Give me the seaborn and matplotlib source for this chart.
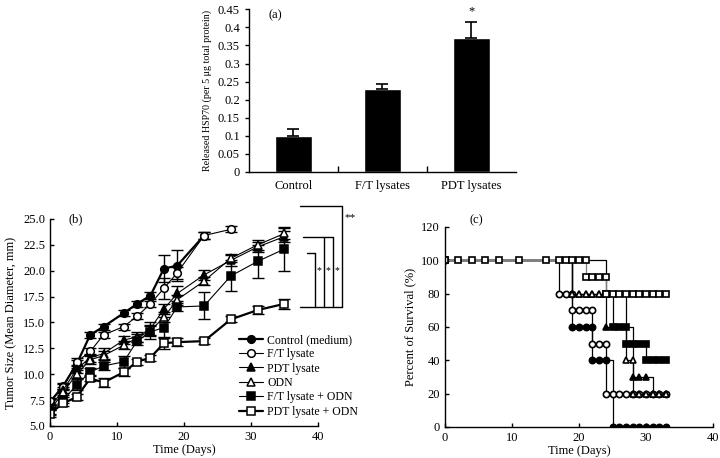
import matplotlib
matplotlib.use('Agg')
import matplotlib.pyplot as plt
import seaborn as sns
import pandas as pd

# ---------------- Panel (a) data ----------------
a_categories = ['Control', 'F/T lysates', 'PDT lysates']
a_values = [0.10, 0.23, 0.37]
a_errors = [0.02, 0.012, 0.045]
a_yticks = [0, 0.05, 0.1, 0.15, 0.2, 0.25, 0.3, 0.35, 0.4, 0.45]
a_yticklabels = ['0', '0.05', '0.1', '0.15', '0.2', '0.25', '0.3', '0.35', '0.4', '0.45']

# ---------------- Panel (b) data ----------------
b_days = [0, 2, 4, 6, 8, 11, 13, 15, 17, 19, 23, 27, 31, 35]
b_labels = ['Control (medium)', 'F/T lysate', 'PDT lysate', 'ODN',
            'F/T lysate + ODN', 'PDT lysate + ODN']
b_control = [7.3, 8.9, 11.0, 13.8, 14.6, 15.9, 16.8, 17.6, 20.2, 20.5, 23.4]
b_control_err = [0.3, 0.3, 0.4, 0.3, 0.3, 0.3, 0.3, 0.3, 1.3, 1.5, 0.3]
b_ft = [7.4, 8.8, 11.2, 12.2, 13.8, 14.6, 15.6, 16.8, 18.3, 19.8, 23.4, 24.0]
b_ft_err = [0.3, 0.3, 0.4, 0.3, 0.3, 0.3, 0.3, 0.3, 1.0, 0.6, 0.3, 0.3]
b_pdt = [6.8, 8.5, 10.5, 11.6, 12.0, 13.3, 13.6, 14.4, 16.3, 17.8, 19.6, 21.0, 22.3, 23.3]
b_pdt_err = [0.3, 0.3, 0.4, 0.4, 0.5, 0.4, 0.5, 0.6, 0.5, 0.7, 0.5, 0.5, 0.5, 0.5]
b_odn = [6.5, 8.3, 10.0, 11.4, 11.8, 12.8, 13.5, 14.2, 15.5, 17.2, 19.0, 21.2, 22.5, 23.6]
b_odn_err = [0.3, 0.3, 0.4, 0.4, 0.4, 0.4, 0.4, 0.5, 0.5, 0.5, 0.4, 0.4, 0.5, 0.5]
b_ftodn = [6.4, 7.5, 9.0, 10.2, 10.8, 11.2, 13.2, 14.1, 14.5, 16.5, 16.6, 19.5, 20.9, 22.1]
b_ftodn_err = [0.3, 0.3, 0.5, 0.4, 0.4, 0.6, 0.4, 0.7, 1.0, 0.4, 1.3, 1.5, 1.6, 2.1]
b_pdtodn = [6.2, 7.2, 7.8, 9.6, 9.2, 10.2, 11.2, 11.6, 13.0, 13.1, 13.2, 15.3, 16.2, 16.8]
b_pdtodn_err = [0.3, 0.3, 0.3, 0.3, 0.4, 0.4, 0.3, 0.3, 0.6, 0.4, 0.3, 0.3, 0.4, 0.5]
b_yticks = [5.0, 7.5, 10.0, 12.5, 15.0, 17.5, 20.0, 22.5, 25.0]
b_yticklabels = ['5.0', '7.5', '10.0', '12.5', '15.0', '17.5', '20.0', '22.5', '25.0']

# ---------------- Panel (c) data ----------------
c_ctrl_days = [0, 19, 20, 21, 22, 22, 23, 24, 25, 26, 27, 28, 29, 30, 31, 32, 33]
c_ctrl_surv = [100, 60, 60, 60, 60, 40, 40, 40, 0, 0, 0, 0, 0, 0, 0, 0, 0]
c_ft_days = [0, 17, 18, 19, 19, 20, 21, 22, 22, 23, 24, 24, 25, 26, 27, 28, 29, 30, 31, 32, 33]
c_ft_surv = [100, 80, 80, 80, 70, 70, 70, 70, 50, 50, 50, 20, 20, 20, 20, 20, 20, 20, 20, 20, 20]
c_pdt_days = [0, 19, 20, 21, 22, 23, 24, 28, 29, 30, 31, 32, 33]
c_pdt_surv = [100, 80, 80, 80, 80, 80, 60, 30, 30, 30, 20, 20, 20]
c_odn_days = [0, 19, 20, 21, 22, 23, 27, 28, 28, 29, 30, 31, 32, 33]
c_odn_surv = [100, 80, 80, 80, 80, 80, 40, 40, 20, 20, 20, 20, 20, 20]
c_ftodn_days = [0, 24, 25, 26, 27, 27, 28, 29, 30, 30, 31, 32, 33]
c_ftodn_surv = [100, 80, 60, 60, 60, 50, 50, 50, 50, 40, 40, 40, 40]
c_pdtodn_days = [0, 2, 4, 6, 8, 11, 15, 17, 18, 19, 20, 21, 21, 22, 23, 24,
                 24, 25, 26, 27, 28, 29, 30, 31, 32, 33]
c_pdtodn_surv = [100, 100, 100, 100, 100, 100, 100, 100, 100, 100, 100, 100,
                 90, 90, 90, 90, 80, 80, 80, 80, 80, 80, 80, 80, 80, 80]

sns.set_style('ticks')
plt.rcParams['font.family'] = ['Liberation Serif', 'DejaVu Serif']
plt.rcParams['font.size'] = 9
plt.rcParams['axes.linewidth'] = 1.0
plt.rcParams['axes.edgecolor'] = 'black'
plt.rcParams['xtick.color'] = 'black'
plt.rcParams['ytick.color'] = 'black'
plt.rcParams['text.color'] = 'black'
plt.rcParams['axes.labelcolor'] = 'black'

fig = plt.figure(figsize=(7.2, 4.58), dpi=100)

# ================= Panel (a) =================
axa = fig.add_axes([0.3458, 0.6245, 0.3708, 0.3552])
dfa = pd.DataFrame({'cat': a_categories, 'val': a_values})
sns.barplot(data=dfa, x='cat', y='val', color='black', width=0.41,
            saturation=1, ax=axa)
axa.errorbar(range(len(a_categories)), a_values,
             yerr=[[0] * len(a_errors), a_errors], fmt='none',
             ecolor='black', elinewidth=1.2, capsize=4, capthick=1.2)
axa.set_xlim(-0.5, 2.5)
axa.set_ylim(0, 0.45)
axa.set_yticks(a_yticks)
axa.set_yticklabels(a_yticklabels, fontsize=9)
axa.set_xlabel('')
axa.set_ylabel('Released HSP70 (per 5 μg total protein)', fontsize=7.2)
axa.tick_params(axis='x', length=0, labelsize=9, pad=6)
axa.set_xticks([0.5, 1.5], minor=True)
axa.tick_params(axis='x', which='minor', direction='in', length=4, width=1)
axa.tick_params(axis='y', direction='out', length=3, width=1)
sns.despine(ax=axa)
axa.text(0.075, 0.965, '(a)', transform=axa.transAxes, fontsize=9,
         ha='left', va='center')
axa.text(2, a_values[2] + a_errors[2] + 0.012, '*', ha='center', va='bottom',
         fontsize=9)

# ================= Panel (b) =================
axb = fig.add_axes([0.0694, 0.0699, 0.3722, 0.452])
b_series = [
    (b_control, b_control_err, 'o', 'black', 1.6),
    (b_ft, b_ft_err, 'o', 'white', 0.8),
    (b_pdt, b_pdt_err, '^', 'black', 0.8),
    (b_odn, b_odn_err, '^', 'white', 0.8),
    (b_ftodn, b_ftodn_err, 's', 'black', 0.8),
    (b_pdtodn, b_pdtodn_err, 's', 'white', 1.6),
]
for (vals, errs, mk, fc, lw), lab in zip(b_series, b_labels):
    days = b_days[:len(vals)]
    axb.errorbar(days, vals, yerr=errs, fmt='none', ecolor='black',
                 elinewidth=1.0, capsize=4, capthick=1.0, zorder=1.5)
    sns.lineplot(x=days, y=vals, ax=axb, color='black', linewidth=lw,
                 marker=mk, markersize=5.5, markerfacecolor=fc,
                 markeredgecolor='black', markeredgewidth=1.1,
                 estimator=None, sort=False, label=lab, zorder=2)
axb.set_xlim(0, 40)
axb.set_ylim(5, 25)
axb.set_xticks([0, 10, 20, 30, 40])
axb.set_yticks(b_yticks)
axb.set_yticklabels(b_yticklabels)
axb.tick_params(direction='in', length=3, width=1, labelsize=9)
axb.set_xlabel('Time (Days)', fontsize=9, labelpad=1)
axb.set_ylabel('Tumor Size (Mean Diameter, mm)', fontsize=9)
sns.despine(ax=axb)
axb.text(0.07, 1.0, '(b)', transform=axb.transAxes, fontsize=9,
         ha='left', va='center')
leg = axb.legend(loc='upper left', bbox_to_anchor=(0.705, 0.445), frameon=False,
                 fontsize=8.5, handlelength=2.0, handletextpad=0.4,
                 labelspacing=0.2, borderpad=0, borderaxespad=0)

# significance brackets
br_kw = dict(color='black', linewidth=1.0, clip_on=False)
axb.plot([37.3, 43.6], [16.5, 16.5], **br_kw)
axb.plot([37.8, 42.2], [23.26, 23.26], **br_kw)
axb.plot([40.9, 40.9], [16.5, 23.26], **br_kw)
axb.plot([42.2, 42.2], [16.5, 23.26], **br_kw)
axb.plot([38.4, 39.6], [21.7, 21.7], **br_kw)
axb.plot([39.6, 39.6], [16.5, 21.7], **br_kw)
axb.plot([43.6, 43.6], [16.5, 26.3], **br_kw)
axb.plot([37.3, 43.6], [26.3, 26.3], **br_kw)
for xs in [40.2, 41.55, 42.9]:
    axb.text(xs, 20.0, '*', ha='center', va='center', fontsize=7, clip_on=False)
axb.text(44.8, 25.1, '**', ha='center', va='center', fontsize=8, clip_on=False)

# ================= Panel (c) =================
axc = fig.add_axes([0.6181, 0.0677, 0.3722, 0.4367])
c_series = [
    (c_ctrl_days, c_ctrl_surv, 'o', 'black', 'black'),
    (c_ft_days, c_ft_surv, 'o', 'white', 'black'),
    (c_pdt_days, c_pdt_surv, '^', 'black', 'black'),
    (c_odn_days, c_odn_surv, '^', 'white', 'black'),
    (c_ftodn_days, c_ftodn_surv, 's', 'black', 'black'),
    (c_pdtodn_days, c_pdtodn_surv, 's', 'white', '0.5'),
]
for i, (dd, ss, mk, fc, lc) in enumerate(c_series):
    sns.lineplot(x=dd, y=ss, ax=axc, color=lc, linewidth=0.9,
                 marker=mk, markersize=4.5, markerfacecolor=fc,
                 markeredgecolor='black', markeredgewidth=1.2,
                 estimator=None, sort=False, drawstyle='steps-post',
                 zorder=2 + i * 0.1)
axc.set_xlim(0, 40)
axc.set_ylim(0, 120)
axc.set_xticks([0, 10, 20, 30, 40])
axc.set_yticks([0, 20, 40, 60, 80, 100, 120])
axc.tick_params(direction='in', length=3, width=1, labelsize=9)
axc.set_xlabel('Time (Days)', fontsize=9, labelpad=1)
axc.set_ylabel('Percent of Survival (%)', fontsize=9)
sns.despine(ax=axc)
axc.text(0.09, 1.035, '(c)', transform=axc.transAxes, fontsize=9,
         ha='left', va='center')

fig.savefig('out.png', dpi=100)
